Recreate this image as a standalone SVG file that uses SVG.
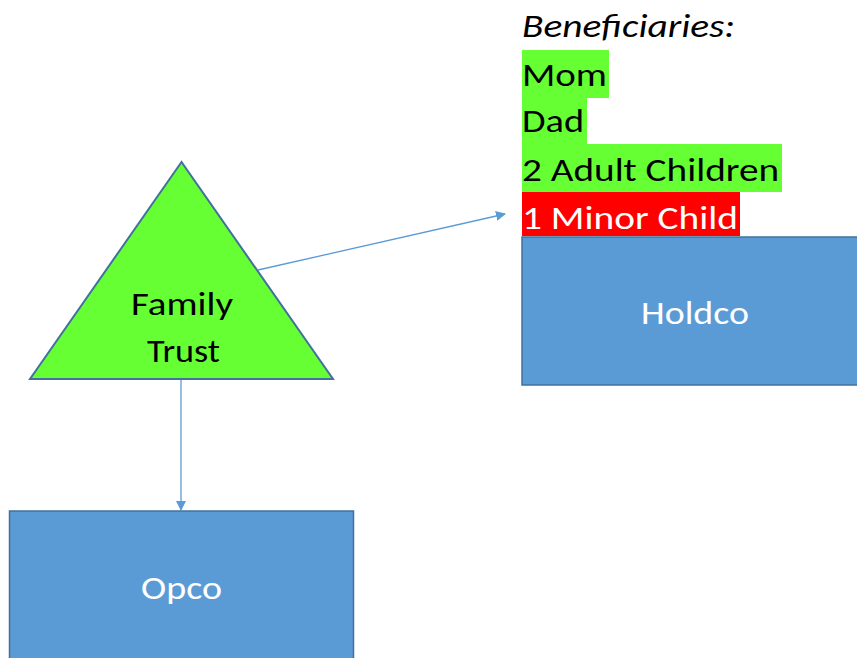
<svg xmlns="http://www.w3.org/2000/svg" width="857" height="658" viewBox="0 0 857 658">
<style>
text{font-family:Carlito,Calibri,Lato,"Open Sans",sans-serif;font-size:33px}
.box{fill:#5B9BD5;stroke:#41719C;stroke-width:1.5}
.wt{fill:#FFFFFF}
.conn{stroke:#5B9BD5;stroke-width:1.3;fill:none;marker-end:url(#ah)}
</style>
<defs>
<marker id="ah" markerWidth="10" markerHeight="10" refX="9" refY="5" orient="auto" markerUnits="userSpaceOnUse">
<path d="M0,0 L10,5 L0,10 Z" fill="#5B9BD5"/>
</marker>
</defs>
<rect width="857" height="658" fill="#FFFFFF"/>
<g id="connectors">
<line class="conn" x1="181" y1="379" x2="181" y2="510"/>
<line class="conn" x1="258" y1="270" x2="505" y2="214"/>
</g>
<g id="beneficiaries">
<rect x="522" y="50" width="87" height="48" fill="#66FF33"/>
<rect x="522" y="97" width="65" height="48" fill="#66FF33"/>
<rect x="522" y="144" width="260" height="48" fill="#66FF33"/>
<rect x="522" y="192" width="218" height="44" fill="#FF0000"/>
<text x="522" y="37" font-style="italic" textLength="213" lengthAdjust="spacingAndGlyphs">Beneficiaries:</text>
<text x="522" y="86" textLength="85" lengthAdjust="spacingAndGlyphs">Mom</text>
<text x="522" y="132" textLength="62" lengthAdjust="spacingAndGlyphs">Dad</text>
<text x="522" y="181" textLength="257" lengthAdjust="spacingAndGlyphs">2 Adult Children</text>
<text x="522" y="229" class="wt" textLength="216" lengthAdjust="spacingAndGlyphs">1 Minor Child</text>
</g>
<g id="family-trust">
<polygon points="181.5,162 30,379 333,379" fill="#66FF33" stroke="#41719C" stroke-width="2"/>
<text x="131" y="315" textLength="102" lengthAdjust="spacingAndGlyphs">Family</text>
<text x="147" y="362" textLength="73" lengthAdjust="spacingAndGlyphs">Trust</text>
</g>
<g id="holdco">
<rect class="box" x="522" y="237" width="345" height="148"/>
<text x="641" y="324" class="wt" textLength="108" lengthAdjust="spacingAndGlyphs">Holdco</text>
</g>
<g id="opco">
<rect class="box" x="9.5" y="511" width="344" height="160"/>
<text x="141" y="599" class="wt" textLength="81" lengthAdjust="spacingAndGlyphs">Opco</text>
</g>
</svg>
